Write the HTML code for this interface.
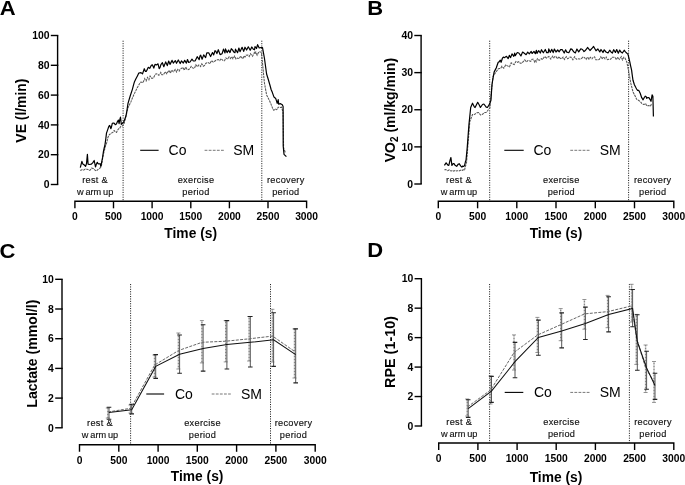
<!DOCTYPE html>
<html><head><meta charset="utf-8"><title>Figure</title>
<style>
html,body{margin:0;padding:0;background:#fff;}
body{width:685px;height:485px;overflow:hidden;font-family:"Liberation Sans", sans-serif;}
svg{display:block;will-change:transform;}
</style></head>
<body>
<svg width="685" height="485" viewBox="0 0 685 485" font-family='"Liberation Sans", sans-serif'>
<rect width="685" height="485" fill="#fff"/>
<text x="0" y="0" font-size="20" font-weight="bold" text-anchor="start" fill="#000" transform="translate(-0.2,14.6) scale(1.1,1)">A</text>
<text x="0" y="0" font-size="20" font-weight="bold" text-anchor="start" fill="#000" transform="translate(367.3,14.6) scale(1.1,1)">B</text>
<text x="0" y="0" font-size="20" font-weight="bold" text-anchor="start" fill="#000" transform="translate(-0.6,257.6) scale(1.1,1)">C</text>
<text x="0" y="0" font-size="20" font-weight="bold" text-anchor="start" fill="#000" transform="translate(367.3,257.4) scale(1.1,1)">D</text>
<path d="M57.6,184.5 L57.6,35.5" stroke="#000" stroke-width="1.4" fill="none"/>
<path d="M50.800000000000004,184.5 L58.300000000000004,184.5" stroke="#000" stroke-width="1.4"/>
<text x="49.50000000000001" y="188.2" font-size="10.4" font-weight="bold" text-anchor="end" fill="#000" >0</text>
<path d="M50.800000000000004,154.7 L58.300000000000004,154.7" stroke="#000" stroke-width="1.4"/>
<text x="49.50000000000001" y="158.39999999999998" font-size="10.4" font-weight="bold" text-anchor="end" fill="#000" >20</text>
<path d="M50.800000000000004,124.9 L58.300000000000004,124.9" stroke="#000" stroke-width="1.4"/>
<text x="49.50000000000001" y="128.6" font-size="10.4" font-weight="bold" text-anchor="end" fill="#000" >40</text>
<path d="M50.800000000000004,95.1 L58.300000000000004,95.1" stroke="#000" stroke-width="1.4"/>
<text x="49.50000000000001" y="98.8" font-size="10.4" font-weight="bold" text-anchor="end" fill="#000" >60</text>
<path d="M50.800000000000004,65.3 L58.300000000000004,65.3" stroke="#000" stroke-width="1.4"/>
<text x="49.50000000000001" y="69.0" font-size="10.4" font-weight="bold" text-anchor="end" fill="#000" >80</text>
<path d="M50.800000000000004,35.5 L58.300000000000004,35.5" stroke="#000" stroke-width="1.4"/>
<text x="49.50000000000001" y="39.2" font-size="10.4" font-weight="bold" text-anchor="end" fill="#000" >100</text>
<path d="M74.9,208.3 L74.9,201.3 L306.6,201.3 L306.6,208.3" stroke="#000" stroke-width="1.4" fill="none"/>
<text x="74.9" y="220.2" font-size="10.3" font-weight="bold" text-anchor="middle" fill="#000" >0</text>
<path d="M113.5,201.3 L113.5,208.3" stroke="#000" stroke-width="1.4"/>
<text x="113.5" y="220.2" font-size="10.3" font-weight="bold" text-anchor="middle" fill="#000" >500</text>
<path d="M152.1,201.3 L152.1,208.3" stroke="#000" stroke-width="1.4"/>
<text x="152.1" y="220.2" font-size="10.3" font-weight="bold" text-anchor="middle" fill="#000" >1000</text>
<path d="M190.8,201.3 L190.8,208.3" stroke="#000" stroke-width="1.4"/>
<text x="190.8" y="220.2" font-size="10.3" font-weight="bold" text-anchor="middle" fill="#000" >1500</text>
<path d="M229.4,201.3 L229.4,208.3" stroke="#000" stroke-width="1.4"/>
<text x="229.4" y="220.2" font-size="10.3" font-weight="bold" text-anchor="middle" fill="#000" >2000</text>
<path d="M268.0,201.3 L268.0,208.3" stroke="#000" stroke-width="1.4"/>
<text x="268.0" y="220.2" font-size="10.3" font-weight="bold" text-anchor="middle" fill="#000" >2500</text>
<text x="306.6" y="220.2" font-size="10.3" font-weight="bold" text-anchor="middle" fill="#000" >3000</text>
<text x="0" y="0" font-size="13.9" font-weight="bold" text-anchor="middle" transform="translate(26.2,110.6) rotate(-90)">VE (l/min)</text>
<text x="190.7" y="237.8" font-size="13.8" font-weight="bold" text-anchor="middle" fill="#000" >Time (s)</text>
<path d="M123.1,40.7 L123.1,201" stroke="#222" stroke-width="1" stroke-dasharray="1.1,1.3" fill="none"/>
<path d="M261.8,40.7 L261.8,201" stroke="#222" stroke-width="1" stroke-dasharray="1.1,1.3" fill="none"/>
<text x="95.1" y="183.3" font-size="9.2" font-weight="normal" text-anchor="middle" fill="#111" letter-spacing="0.3" stroke="#111" stroke-width="0.15">rest &amp;</text>
<text x="95.1" y="194.6" font-size="9.2" font-weight="normal" text-anchor="middle" fill="#111" word-spacing="-0.7" stroke="#111" stroke-width="0.15">w arm up</text>
<text x="196" y="183.3" font-size="9.2" font-weight="normal" text-anchor="middle" fill="#111" letter-spacing="0.3" stroke="#111" stroke-width="0.15">exercise</text>
<text x="196" y="194.6" font-size="9.2" font-weight="normal" text-anchor="middle" fill="#111" letter-spacing="0.3" stroke="#111" stroke-width="0.15">period</text>
<text x="285.8" y="183.3" font-size="9.2" font-weight="normal" text-anchor="middle" fill="#111" letter-spacing="0.3" stroke="#111" stroke-width="0.15">recovery</text>
<text x="285.8" y="194.6" font-size="9.2" font-weight="normal" text-anchor="middle" fill="#111" letter-spacing="0.3" stroke="#111" stroke-width="0.15">period</text>
<path d="M140.2,150.3 L158.6,150.3" stroke="#000" stroke-width="1.1"/>
<text x="168.6" y="155.4" font-size="14" font-weight="normal" text-anchor="start" fill="#000" >Co</text>
<path d="M204.6,150.3 L224,150.3" stroke="#777" stroke-width="1" stroke-dasharray="2.8,1.3"/>
<text x="233.2" y="155.4" font-size="14" font-weight="normal" text-anchor="start" fill="#000" >SM</text>
<path d="M80.3,170.4 L81.9,169.7 L83.5,170.1 L85.3,169.1 L87.1,169.3 L88.7,169.9 L89.6,170.4 L90.4,169.8 L91.5,168.2 L93.3,168.6 L94.0,169.1 L95.0,170.2 L96.4,171.0 L98.1,169.4 L99.5,168.5 L100.7,167.4 L101.4,166.0 L103.0,156.0 L104.4,150.4 L105.5,146.0 L106.8,142.4 L107.9,137.4 L109.4,134.5 L111.5,133.1 L113.1,132.1 L113.7,130.9 L114.4,130.7 L115.5,132.1 L116.6,132.4 L117.2,130.7 L118.7,128.7 L119.6,128.6 L120.2,127.3 L121.0,126.2 L122.4,125.9 L123.8,124.4 L125.2,119.4 L127.2,111.1 L128.0,107.7 L128.8,106.1 L130.9,101.9 L132.1,98.8 L133.8,94.7 L135.5,91.4 L136.8,88.5 L137.4,87.4 L138.9,84.8 L140.3,82.4 L141.0,82.1 L142.9,82.7 L144.7,78.7 L145.3,80.2 L146.1,81.0 L147.5,77.4 L148.9,79.8 L150.1,76.1 L151.1,77.3 L151.9,78.4 L153.4,78.0 L155.4,74.1 L156.8,73.8 L158.9,75.3 L160.0,73.9 L160.8,72.4 L161.9,74.8 L163.3,74.8 L165.3,71.7 L166.8,73.7 L168.9,70.3 L170.4,73.1 L171.6,70.1 L173.3,71.8 L175.2,69.4 L176.6,72.0 L177.8,69.4 L179.2,71.1 L180.0,69.5 L181.2,68.5 L183.1,67.5 L184.3,70.3 L185.7,67.0 L186.9,69.2 L188.1,69.6 L190.0,68.6 L191.2,66.4 L192.9,68.1 L194.5,68.3 L195.8,64.7 L197.6,66.8 L198.8,64.9 L200.0,65.6 L200.6,66.5 L201.8,63.9 L203.3,66.2 L204.6,65.3 L206.0,63.2 L208.1,62.5 L210.0,63.8 L211.4,60.6 L213.3,62.2 L215.0,61.0 L216.2,60.2 L218.1,59.5 L219.8,60.6 L221.1,58.6 L223.1,60.6 L224.5,60.7 L225.8,57.9 L227.7,59.1 L229.1,56.9 L230.0,57.8 L230.5,58.5 L231.7,56.7 L232.9,58.8 L234.6,56.1 L236.0,59.0 L237.7,58.0 L239.1,58.8 L240.7,56.1 L242.7,58.8 L244.3,55.8 L245.0,57.0 L246.0,55.2 L247.9,55.0 L249.2,56.5 L250.5,53.8 L252.5,56.2 L254.4,52.5 L255.0,54.0 L255.8,52.1 L257.1,55.2 L258.9,51.7 L260.9,52.1 L261.5,53.0 L262.2,60.2 L262.8,66.0 L264.4,82.8 L266.6,94.9 L267.9,97.5 L269.9,101.5 L270.7,103.4 L271.8,106.3 L273.2,109.7 L273.9,110.3 L275.2,108.9 L276.5,109.7 L277.0,109.3 L278.2,107.2 L280.3,107.5 L281.5,107.2 L283.0,112.0 L283.6,148.0 L284.7,150.8 L285.5,153.0" stroke="#555" stroke-width="1.05" fill="none" stroke-dasharray="2.4,0.8"/>
<path d="M80.3,167.6 L81.9,161.4 L82.8,163.9 L84.0,164.8 L85.6,166.3 L86.5,163.6 L87.4,154.3 L88.1,164.2 L89.3,164.5 L91.2,164.2 L92.7,162.9 L94.2,160.5 L95.5,167.0 L96.3,164.3 L97.3,162.3 L98.1,163.7 L98.6,163.9 L100.4,163.9 L100.7,166.3 L101.4,163.6 L102.6,157.4 L103.5,151.2 L104.2,148.0 L105.0,144.6 L105.9,138.0 L106.5,133.1 L107.9,129.1 L108.7,126.8 L109.4,125.5 L110.0,126.0 L110.8,128.7 L111.4,127.2 L112.3,123.3 L113.4,123.0 L114.4,123.3 L115.2,124.7 L115.9,124.4 L116.5,123.8 L117.3,121.9 L118.4,120.1 L119.1,123.7 L119.6,120.4 L120.5,117.2 L121.3,124.4 L122.7,123.0 L123.7,122.0 L124.5,120.1 L126.0,115.8 L127.0,110.0 L128.0,103.3 L130.2,96.0 L132.3,89.6 L133.7,84.4 L134.5,81.7 L135.8,79.1 L137.4,75.9 L138.8,73.0 L141.0,72.6 L142.5,73.9 L144.3,68.7 L145.3,71.3 L146.4,71.3 L148.3,67.3 L149.7,68.4 L151.2,65.4 L152.5,64.9 L153.8,68.1 L155.0,64.4 L156.4,64.9 L158.0,63.8 L159.2,68.6 L160.0,67.7 L160.9,64.6 L162.4,62.7 L163.8,66.7 L165.7,61.9 L167.3,65.6 L168.7,61.0 L170.0,64.4 L172.1,60.4 L173.3,63.1 L175.3,60.6 L176.5,63.3 L178.3,60.0 L180.2,63.5 L181.4,60.9 L183.3,63.0 L184.7,60.4 L186.4,63.1 L187.5,59.5 L188.7,62.5 L190.0,62.0 L192.0,59.2 L193.3,61.0 L195.2,60.8 L197.2,56.7 L199.2,59.7 L200.0,55.8 L200.7,55.1 L202.1,59.2 L203.7,54.9 L205.6,57.6 L206.8,52.8 L208.7,52.8 L210.6,56.5 L212.5,52.5 L213.7,54.9 L215.0,50.7 L215.7,51.1 L216.9,53.6 L218.3,49.7 L220.1,54.6 L222.1,53.7 L223.5,49.1 L225.0,53.0 L225.5,48.9 L227.1,52.6 L228.6,50.1 L230.0,52.6 L231.3,48.7 L232.5,49.9 L233.7,51.9 L235.0,52.7 L235.5,49.2 L237.6,52.7 L238.9,48.0 L240.0,51.7 L242.1,47.3 L243.7,51.4 L245.0,47.2 L246.6,50.0 L248.3,46.8 L250.2,50.3 L251.8,47.0 L253.3,49.2 L254.5,49.8 L255.0,46.5 L256.5,48.5 L257.6,44.7 L259.2,48.0 L261.0,47.5 L262.5,47.7 L264.4,58.0 L266.6,74.0 L268.0,78.5 L269.9,85.0 L271.1,89.5 L272.4,92.6 L274.0,97.1 L275.7,98.4 L277.2,103.4 L278.2,99.7 L278.7,104.1 L280.6,103.7 L282.3,104.7 L283.1,106.4 L283.2,146.0 L284.0,154.3 L284.8,155.1 L286.4,156.7" stroke="#000" stroke-width="1.2" fill="none" stroke-linejoin="round"/>
<path d="M421.1,184.0 L421.1,35.5" stroke="#000" stroke-width="1.4" fill="none"/>
<path d="M414.3,184.0 L421.8,184.0" stroke="#000" stroke-width="1.4"/>
<text x="413.0" y="187.7" font-size="10.4" font-weight="bold" text-anchor="end" fill="#000" >0</text>
<path d="M414.3,146.875 L421.8,146.875" stroke="#000" stroke-width="1.4"/>
<text x="413.0" y="150.575" font-size="10.4" font-weight="bold" text-anchor="end" fill="#000" >10</text>
<path d="M414.3,109.75 L421.8,109.75" stroke="#000" stroke-width="1.4"/>
<text x="413.0" y="113.45" font-size="10.4" font-weight="bold" text-anchor="end" fill="#000" >20</text>
<path d="M414.3,72.625 L421.8,72.625" stroke="#000" stroke-width="1.4"/>
<text x="413.0" y="76.325" font-size="10.4" font-weight="bold" text-anchor="end" fill="#000" >30</text>
<path d="M414.3,35.5 L421.8,35.5" stroke="#000" stroke-width="1.4"/>
<text x="413.0" y="39.2" font-size="10.4" font-weight="bold" text-anchor="end" fill="#000" >40</text>
<path d="M438.3,208.3 L438.3,201.3 L673.8,201.3 L673.8,208.3" stroke="#000" stroke-width="1.4" fill="none"/>
<text x="438.3" y="220.2" font-size="10.3" font-weight="bold" text-anchor="middle" fill="#000" >0</text>
<path d="M477.6,201.3 L477.6,208.3" stroke="#000" stroke-width="1.4"/>
<text x="477.6" y="220.2" font-size="10.3" font-weight="bold" text-anchor="middle" fill="#000" >500</text>
<path d="M516.8,201.3 L516.8,208.3" stroke="#000" stroke-width="1.4"/>
<text x="516.8" y="220.2" font-size="10.3" font-weight="bold" text-anchor="middle" fill="#000" >1000</text>
<path d="M556.0,201.3 L556.0,208.3" stroke="#000" stroke-width="1.4"/>
<text x="556.0" y="220.2" font-size="10.3" font-weight="bold" text-anchor="middle" fill="#000" >1500</text>
<path d="M595.3,201.3 L595.3,208.3" stroke="#000" stroke-width="1.4"/>
<text x="595.3" y="220.2" font-size="10.3" font-weight="bold" text-anchor="middle" fill="#000" >2000</text>
<path d="M634.5,201.3 L634.5,208.3" stroke="#000" stroke-width="1.4"/>
<text x="634.5" y="220.2" font-size="10.3" font-weight="bold" text-anchor="middle" fill="#000" >2500</text>
<text x="673.8" y="220.2" font-size="10.3" font-weight="bold" text-anchor="middle" fill="#000" >3000</text>
<text x="0" y="0" font-size="14" font-weight="bold" text-anchor="middle" transform="translate(394.8,110.1) rotate(-90)">VO<tspan font-size="10" dy="3">2</tspan><tspan dy="-3"> (ml/kg/min)</tspan></text>
<text x="556" y="237.8" font-size="13.8" font-weight="bold" text-anchor="middle" fill="#000" >Time (s)</text>
<path d="M489.7,40.7 L489.7,201" stroke="#222" stroke-width="1" stroke-dasharray="1.1,1.3" fill="none"/>
<path d="M628.6,40.7 L628.6,201" stroke="#222" stroke-width="1" stroke-dasharray="1.1,1.3" fill="none"/>
<text x="459" y="183.3" font-size="9.2" font-weight="normal" text-anchor="middle" fill="#111" letter-spacing="0.3" stroke="#111" stroke-width="0.15">rest &amp;</text>
<text x="459" y="194.6" font-size="9.2" font-weight="normal" text-anchor="middle" fill="#111" word-spacing="-0.7" stroke="#111" stroke-width="0.15">w arm up</text>
<text x="561.3" y="183.3" font-size="9.2" font-weight="normal" text-anchor="middle" fill="#111" letter-spacing="0.3" stroke="#111" stroke-width="0.15">exercise</text>
<text x="561.3" y="194.6" font-size="9.2" font-weight="normal" text-anchor="middle" fill="#111" letter-spacing="0.3" stroke="#111" stroke-width="0.15">period</text>
<text x="652.7" y="183.3" font-size="9.2" font-weight="normal" text-anchor="middle" fill="#111" letter-spacing="0.3" stroke="#111" stroke-width="0.15">recovery</text>
<text x="652.7" y="194.6" font-size="9.2" font-weight="normal" text-anchor="middle" fill="#111" letter-spacing="0.3" stroke="#111" stroke-width="0.15">period</text>
<path d="M504.3,150.3 L523.7,150.3" stroke="#000" stroke-width="1.1"/>
<text x="533.5" y="155.4" font-size="14" font-weight="normal" text-anchor="start" fill="#000" >Co</text>
<path d="M570.3,150.3 L589.7,150.3" stroke="#777" stroke-width="1" stroke-dasharray="2.8,1.3"/>
<text x="599.7" y="155.4" font-size="14" font-weight="normal" text-anchor="start" fill="#000" >SM</text>
<path d="M444.4,169.8 L445.8,169.6 L447.5,170.7 L449.3,169.9 L450.5,170.7 L451.3,170.9 L452.6,170.4 L453.9,171.2 L455.2,170.3 L456.5,171.0 L457.5,170.7 L458.3,170.9 L459.6,170.8 L461.2,169.8 L462.5,170.3 L463.9,169.5 L464.6,169.8 L465.5,166.0 L466.5,163.0 L467.4,151.9 L469.1,130.6 L469.8,121.6 L471.6,116.9 L472.5,114.6 L474.8,114.3 L476.8,112.8 L478.6,112.6 L480.5,115.0 L482.1,114.6 L484.4,112.7 L486.3,112.2 L487.4,111.0 L490.0,107.5 L491.5,90.0 L493.1,76.2 L494.7,73.9 L495.2,73.1 L496.2,71.7 L497.7,69.7 L498.2,69.0 L499.2,68.5 L500.6,68.5 L501.9,66.3 L502.4,67.0 L503.8,68.2 L505.7,64.9 L507.5,65.9 L509.5,66.8 L511.2,62.9 L512.7,63.9 L514.2,64.6 L516.0,61.4 L517.8,62.3 L518.8,61.6 L520.2,63.2 L521.8,63.1 L523.0,61.8 L524.7,59.9 L526.4,61.9 L527.9,60.5 L529.2,60.8 L530.7,61.4 L532.1,59.3 L533.4,59.3 L534.7,62.1 L535.4,60.8 L536.2,61.9 L537.4,58.7 L539.2,60.4 L541.5,58.7 L542.7,59.5 L544.5,56.5 L546.5,58.0 L547.7,57.2 L548.9,56.5 L550.8,59.1 L552.7,56.1 L553.9,57.7 L554.5,56.7 L555.8,56.4 L557.3,58.8 L559.2,56.6 L560.0,58.2 L561.2,58.9 L563.1,57.1 L564.4,59.4 L566.3,56.7 L567.8,58.8 L569.6,57.3 L570.9,57.1 L572.9,59.7 L574.6,56.8 L576.4,59.2 L577.8,58.7 L579.5,58.9 L581.2,58.9 L582.8,57.1 L584.3,57.4 L586.1,59.4 L587.6,57.1 L589.0,59.2 L590.3,57.3 L592.0,58.8 L593.3,57.2 L594.6,56.8 L595.8,59.8 L597.5,59.7 L599.2,59.5 L600.8,56.9 L602.0,59.0 L603.5,56.8 L605.0,58.8 L606.2,57.0 L607.3,59.6 L609.4,59.2 L610.6,59.3 L612.0,57.2 L613.4,57.2 L615.1,57.3 L616.3,59.8 L617.9,57.2 L619.3,59.3 L621.3,56.7 L622.4,59.9 L623.8,57.2 L625.0,58.2 L626.8,61.9 L627.5,65.3 L628.7,71.7 L630.8,83.2 L632.4,89.6 L633.0,91.9 L633.8,93.5 L635.0,95.8 L635.9,97.7 L636.6,99.2 L638.8,100.5 L640.4,101.6 L641.7,103.4 L643.5,104.5 L644.5,104.2 L645.5,103.5 L646.8,105.9 L648.9,105.6 L650.3,106.3 L651.3,104.4 L652.0,104.0" stroke="#555" stroke-width="1.05" fill="none" stroke-dasharray="2.4,0.8"/>
<path d="M444.4,165.4 L446.1,162.8 L447.9,165.2 L448.8,165.4 L450.0,160.5 L450.9,157.5 L451.9,165.4 L453.2,163.6 L454.0,163.7 L455.0,165.2 L456.7,166.3 L458.0,164.4 L459.3,163.7 L460.6,165.9 L461.9,167.2 L462.5,166.1 L463.8,166.5 L464.6,165.4 L465.4,161.8 L466.0,160.2 L467.2,147.9 L468.9,125.1 L470.7,107.5 L472.5,103.2 L474.4,107.0 L475.1,107.5 L477.7,102.3 L479.4,105.2 L480.4,107.5 L482.5,104.5 L483.9,104.0 L486.2,107.1 L487.4,107.5 L489.1,104.9 L490.9,100.5 L492.0,84.5 L492.8,79.5 L494.1,72.1 L495.5,69.4 L496.2,68.0 L497.5,64.3 L498.2,62.3 L499.1,61.9 L500.3,60.2 L501.1,62.3 L502.4,58.2 L503.4,57.1 L504.3,57.7 L506.5,56.3 L508.2,58.6 L509.3,55.4 L510.6,57.6 L512.0,53.9 L513.8,56.3 L514.7,53.1 L515.3,55.7 L517.3,52.5 L518.8,53.0 L520.9,55.9 L522.6,52.1 L524.0,53.1 L526.1,54.7 L527.7,52.1 L529.3,53.9 L531.2,51.4 L532.1,53.5 L534.0,51.4 L535.3,53.7 L536.4,50.3 L537.0,53.3 L538.7,50.7 L540.3,53.0 L541.5,49.7 L543.3,52.8 L545.3,49.5 L546.7,52.7 L548.2,52.7 L548.8,48.9 L550.2,52.4 L551.8,49.4 L553.2,52.6 L554.4,49.0 L556.0,52.0 L557.7,50.0 L559.2,51.8 L560.6,49.6 L562.3,49.7 L564.2,53.0 L565.6,49.8 L566.8,52.1 L568.8,52.7 L570.8,48.9 L572.0,49.4 L573.6,51.7 L575.4,52.9 L576.9,49.0 L578.7,51.9 L580.8,48.8 L582.5,49.5 L584.0,51.6 L585.0,50.8 L586.6,48.8 L587.7,47.5 L589.1,49.3 L590.0,50.5 L592.4,47.9 L593.6,46.5 L596.0,50.8 L597.9,49.0 L599.8,51.9 L601.0,49.5 L603.0,52.5 L604.2,49.8 L606.0,52.0 L608.0,53.0 L609.7,50.2 L611.2,52.2 L612.4,53.1 L613.6,49.7 L615.4,52.4 L616.7,49.6 L618.3,53.2 L619.7,50.1 L621.0,52.1 L622.4,53.0 L624.2,50.2 L625.0,51.4 L625.8,52.2 L627.3,53.6 L628.0,54.3 L628.9,58.0 L629.8,61.9 L630.5,65.3 L631.6,70.2 L632.1,74.1 L633.0,80.3 L633.7,82.5 L634.4,84.7 L635.7,87.3 L636.6,89.0 L637.6,90.4 L638.8,90.4 L640.2,93.3 L641.7,97.7 L643.1,99.8 L644.3,97.5 L645.3,96.2 L646.1,96.6 L646.7,98.4 L647.8,97.5 L648.9,97.7 L650.3,99.8 L651.0,101.3 L652.1,94.8 L652.9,96.2 L653.4,116.4" stroke="#000" stroke-width="1.2" fill="none" stroke-linejoin="round"/>
<path d="M62.0,427.8 L62.0,279.3" stroke="#000" stroke-width="1.4" fill="none"/>
<path d="M55.2,427.8 L62.7,427.8" stroke="#000" stroke-width="1.4"/>
<text x="53.900000000000006" y="431.5" font-size="10.4" font-weight="bold" text-anchor="end" fill="#000" >0</text>
<path d="M55.2,398.1 L62.7,398.1" stroke="#000" stroke-width="1.4"/>
<text x="53.900000000000006" y="401.8" font-size="10.4" font-weight="bold" text-anchor="end" fill="#000" >2</text>
<path d="M55.2,368.40000000000003 L62.7,368.40000000000003" stroke="#000" stroke-width="1.4"/>
<text x="53.900000000000006" y="372.1" font-size="10.4" font-weight="bold" text-anchor="end" fill="#000" >4</text>
<path d="M55.2,338.70000000000005 L62.7,338.70000000000005" stroke="#000" stroke-width="1.4"/>
<text x="53.900000000000006" y="342.40000000000003" font-size="10.4" font-weight="bold" text-anchor="end" fill="#000" >6</text>
<path d="M55.2,309.0 L62.7,309.0" stroke="#000" stroke-width="1.4"/>
<text x="53.900000000000006" y="312.7" font-size="10.4" font-weight="bold" text-anchor="end" fill="#000" >8</text>
<path d="M55.2,279.3 L62.7,279.3" stroke="#000" stroke-width="1.4"/>
<text x="53.900000000000006" y="283.0" font-size="10.4" font-weight="bold" text-anchor="end" fill="#000" >10</text>
<path d="M79.5,451.8 L79.5,444.8 L315.2,444.8 L315.2,451.8" stroke="#000" stroke-width="1.4" fill="none"/>
<text x="79.5" y="463.6" font-size="10.3" font-weight="bold" text-anchor="middle" fill="#000" >0</text>
<path d="M118.8,444.8 L118.8,451.8" stroke="#000" stroke-width="1.4"/>
<text x="118.8" y="463.6" font-size="10.3" font-weight="bold" text-anchor="middle" fill="#000" >500</text>
<path d="M158.1,444.8 L158.1,451.8" stroke="#000" stroke-width="1.4"/>
<text x="158.1" y="463.6" font-size="10.3" font-weight="bold" text-anchor="middle" fill="#000" >1000</text>
<path d="M197.3,444.8 L197.3,451.8" stroke="#000" stroke-width="1.4"/>
<text x="197.3" y="463.6" font-size="10.3" font-weight="bold" text-anchor="middle" fill="#000" >1500</text>
<path d="M236.6,444.8 L236.6,451.8" stroke="#000" stroke-width="1.4"/>
<text x="236.6" y="463.6" font-size="10.3" font-weight="bold" text-anchor="middle" fill="#000" >2000</text>
<path d="M275.9,444.8 L275.9,451.8" stroke="#000" stroke-width="1.4"/>
<text x="275.9" y="463.6" font-size="10.3" font-weight="bold" text-anchor="middle" fill="#000" >2500</text>
<text x="315.2" y="463.6" font-size="10.3" font-weight="bold" text-anchor="middle" fill="#000" >3000</text>
<text x="0" y="0" font-size="14.1" font-weight="bold" text-anchor="middle" transform="translate(36.8,353.7) rotate(-90)">Lactate (mmol/l)</text>
<text x="197.1" y="481.3" font-size="13.8" font-weight="bold" text-anchor="middle" fill="#000" >Time (s)</text>
<path d="M130.6,284 L130.6,444" stroke="#222" stroke-width="1" stroke-dasharray="1.1,1.3" fill="none"/>
<path d="M270.5,284 L270.5,444" stroke="#222" stroke-width="1" stroke-dasharray="1.1,1.3" fill="none"/>
<text x="100" y="426.4" font-size="9.2" font-weight="normal" text-anchor="middle" fill="#111" letter-spacing="0.3" stroke="#111" stroke-width="0.15">rest &amp;</text>
<text x="100" y="437.8" font-size="9.2" font-weight="normal" text-anchor="middle" fill="#111" word-spacing="-0.7" stroke="#111" stroke-width="0.15">w arm up</text>
<text x="202.5" y="426.4" font-size="9.2" font-weight="normal" text-anchor="middle" fill="#111" letter-spacing="0.3" stroke="#111" stroke-width="0.15">exercise</text>
<text x="202.5" y="437.8" font-size="9.2" font-weight="normal" text-anchor="middle" fill="#111" letter-spacing="0.3" stroke="#111" stroke-width="0.15">period</text>
<text x="293.5" y="426.4" font-size="9.2" font-weight="normal" text-anchor="middle" fill="#111" letter-spacing="0.3" stroke="#111" stroke-width="0.15">recovery</text>
<text x="293.5" y="437.8" font-size="9.2" font-weight="normal" text-anchor="middle" fill="#111" letter-spacing="0.3" stroke="#111" stroke-width="0.15">period</text>
<path d="M146.3,394 L164.1,394" stroke="#000" stroke-width="1.1"/>
<text x="175" y="398.9" font-size="14" font-weight="normal" text-anchor="start" fill="#000" >Co</text>
<path d="M211.7,394 L230.8,394" stroke="#777" stroke-width="1" stroke-dasharray="2.8,1.3"/>
<text x="241" y="398.9" font-size="14" font-weight="normal" text-anchor="start" fill="#000" >SM</text>
<path d="M107.8,408.0 L107.8,418.0" stroke="#888" stroke-width="1.4" stroke-dasharray="1,0.5"/>
<path d="M105.8,408.0 L109.8,408.0 M105.8,418.0 L109.8,418.0" stroke="#888" stroke-width="0.9"/>
<path d="M109.0,407.3 L109.0,419.3" stroke="#555" stroke-width="1.0"/>
<path d="M106.7,407.3 L111.3,407.3 M106.7,419.3 L111.3,419.3" stroke="#222" stroke-width="1.1"/>
<path d="M130.5,405.0 L130.5,413.0" stroke="#888" stroke-width="1.4" stroke-dasharray="1,0.5"/>
<path d="M128.5,405.0 L132.5,405.0 M128.5,413.0 L132.5,413.0" stroke="#888" stroke-width="0.9"/>
<path d="M131.7,404.4 L131.7,413.9" stroke="#555" stroke-width="1.0"/>
<path d="M129.39999999999998,404.4 L134.0,404.4 M129.39999999999998,413.9 L134.0,413.9" stroke="#222" stroke-width="1.1"/>
<path d="M154.5,355.0 L154.5,377.0" stroke="#888" stroke-width="1.4" stroke-dasharray="1,0.5"/>
<path d="M152.5,355.0 L156.5,355.0 M152.5,377.0 L156.5,377.0" stroke="#888" stroke-width="0.9"/>
<path d="M155.7,354.6 L155.7,378.4" stroke="#555" stroke-width="1.0"/>
<path d="M153.39999999999998,354.6 L158.0,354.6 M153.39999999999998,378.4 L158.0,378.4" stroke="#222" stroke-width="1.1"/>
<path d="M178.4,333.0 L178.4,369.0" stroke="#888" stroke-width="1.4" stroke-dasharray="1,0.5"/>
<path d="M176.4,333.0 L180.4,333.0 M176.4,369.0 L180.4,369.0" stroke="#888" stroke-width="0.9"/>
<path d="M179.6,335.0 L179.6,373.2" stroke="#555" stroke-width="1.0"/>
<path d="M177.29999999999998,335.0 L181.9,335.0 M177.29999999999998,373.2 L181.9,373.2" stroke="#222" stroke-width="1.1"/>
<path d="M201.9,320.6 L201.9,362.9" stroke="#888" stroke-width="1.4" stroke-dasharray="1,0.5"/>
<path d="M199.9,320.6 L203.9,320.6 M199.9,362.9 L203.9,362.9" stroke="#888" stroke-width="0.9"/>
<path d="M203.1,324.7 L203.1,371.1" stroke="#555" stroke-width="1.0"/>
<path d="M200.79999999999998,324.7 L205.4,324.7 M200.79999999999998,371.1 L205.4,371.1" stroke="#222" stroke-width="1.1"/>
<path d="M225.70000000000002,320.6 L225.70000000000002,361.9" stroke="#888" stroke-width="1.4" stroke-dasharray="1,0.5"/>
<path d="M223.70000000000002,320.6 L227.70000000000002,320.6 M223.70000000000002,361.9 L227.70000000000002,361.9" stroke="#888" stroke-width="0.9"/>
<path d="M226.9,320.6 L226.9,369.0" stroke="#555" stroke-width="1.0"/>
<path d="M224.6,320.6 L229.20000000000002,320.6 M224.6,369.0 L229.20000000000002,369.0" stroke="#222" stroke-width="1.1"/>
<path d="M249.10000000000002,316.5 L249.10000000000002,361.0" stroke="#888" stroke-width="1.4" stroke-dasharray="1,0.5"/>
<path d="M247.10000000000002,316.5 L251.10000000000002,316.5 M247.10000000000002,361.0 L251.10000000000002,361.0" stroke="#888" stroke-width="0.9"/>
<path d="M250.3,316.5 L250.3,367.0" stroke="#555" stroke-width="1.0"/>
<path d="M248.0,316.5 L252.60000000000002,316.5 M248.0,367.0 L252.60000000000002,367.0" stroke="#222" stroke-width="1.1"/>
<path d="M272.40000000000003,309.3 L272.40000000000003,362.0" stroke="#888" stroke-width="1.4" stroke-dasharray="1,0.5"/>
<path d="M270.40000000000003,309.3 L274.40000000000003,309.3 M270.40000000000003,362.0 L274.40000000000003,362.0" stroke="#888" stroke-width="0.9"/>
<path d="M273.6,312.8 L273.6,366.4" stroke="#555" stroke-width="1.0"/>
<path d="M271.3,312.8 L275.90000000000003,312.8 M271.3,366.4 L275.90000000000003,366.4" stroke="#222" stroke-width="1.1"/>
<path d="M294.5,328.9 L294.5,378.0" stroke="#888" stroke-width="1.4" stroke-dasharray="1,0.5"/>
<path d="M292.5,328.9 L296.5,328.9 M292.5,378.0 L296.5,378.0" stroke="#888" stroke-width="0.9"/>
<path d="M295.7,328.9 L295.7,382.9" stroke="#555" stroke-width="1.0"/>
<path d="M293.4,328.9 L298.0,328.9 M293.4,382.9 L298.0,382.9" stroke="#222" stroke-width="1.1"/>
<path d="M108.0,412.0 L130.7,408.3 L154.7,365.0 L178.6,350.5 L202.1,342.3 L225.9,341.2 L249.3,338.8 L272.6,336.1 L294.7,351.5" stroke="#666" stroke-width="1" fill="none" stroke-dasharray="3,1.3"/>
<path d="M109.0,412.4 L131.7,409.8 L155.7,366.4 L179.6,354.2 L203.1,348.5 L226.9,344.5 L250.3,342.3 L273.6,339.8 L295.7,354.6" stroke="#111" stroke-width="1.05" fill="none"/>
<path d="M421.4,426.0 L421.4,278.7" stroke="#000" stroke-width="1.4" fill="none"/>
<path d="M414.59999999999997,426.0 L422.09999999999997,426.0" stroke="#000" stroke-width="1.4"/>
<text x="413.29999999999995" y="429.7" font-size="10.4" font-weight="bold" text-anchor="end" fill="#000" >0</text>
<path d="M414.59999999999997,396.54 L422.09999999999997,396.54" stroke="#000" stroke-width="1.4"/>
<text x="413.29999999999995" y="400.24" font-size="10.4" font-weight="bold" text-anchor="end" fill="#000" >2</text>
<path d="M414.59999999999997,367.08 L422.09999999999997,367.08" stroke="#000" stroke-width="1.4"/>
<text x="413.29999999999995" y="370.78" font-size="10.4" font-weight="bold" text-anchor="end" fill="#000" >4</text>
<path d="M414.59999999999997,337.62 L422.09999999999997,337.62" stroke="#000" stroke-width="1.4"/>
<text x="413.29999999999995" y="341.32" font-size="10.4" font-weight="bold" text-anchor="end" fill="#000" >6</text>
<path d="M414.59999999999997,308.15999999999997 L422.09999999999997,308.15999999999997" stroke="#000" stroke-width="1.4"/>
<text x="413.29999999999995" y="311.85999999999996" font-size="10.4" font-weight="bold" text-anchor="end" fill="#000" >8</text>
<path d="M414.59999999999997,278.7 L422.09999999999997,278.7" stroke="#000" stroke-width="1.4"/>
<text x="413.29999999999995" y="282.4" font-size="10.4" font-weight="bold" text-anchor="end" fill="#000" >10</text>
<path d="M438.7,450.0 L438.7,443.0 L673.8,443.0 L673.8,450.0" stroke="#000" stroke-width="1.4" fill="none"/>
<text x="438.7" y="461.6" font-size="10.3" font-weight="bold" text-anchor="middle" fill="#000" >0</text>
<path d="M477.9,443.0 L477.9,450.0" stroke="#000" stroke-width="1.4"/>
<text x="477.9" y="461.6" font-size="10.3" font-weight="bold" text-anchor="middle" fill="#000" >500</text>
<path d="M517.1,443.0 L517.1,450.0" stroke="#000" stroke-width="1.4"/>
<text x="517.1" y="461.6" font-size="10.3" font-weight="bold" text-anchor="middle" fill="#000" >1000</text>
<path d="M556.2,443.0 L556.2,450.0" stroke="#000" stroke-width="1.4"/>
<text x="556.2" y="461.6" font-size="10.3" font-weight="bold" text-anchor="middle" fill="#000" >1500</text>
<path d="M595.4,443.0 L595.4,450.0" stroke="#000" stroke-width="1.4"/>
<text x="595.4" y="461.6" font-size="10.3" font-weight="bold" text-anchor="middle" fill="#000" >2000</text>
<path d="M634.6,443.0 L634.6,450.0" stroke="#000" stroke-width="1.4"/>
<text x="634.6" y="461.6" font-size="10.3" font-weight="bold" text-anchor="middle" fill="#000" >2500</text>
<text x="673.8" y="461.6" font-size="10.3" font-weight="bold" text-anchor="middle" fill="#000" >3000</text>
<text x="0" y="0" font-size="14.4" font-weight="bold" text-anchor="middle" transform="translate(394.8,352.0) rotate(-90)">RPE (1-10)</text>
<text x="556" y="481.5" font-size="13.8" font-weight="bold" text-anchor="middle" fill="#000" >Time (s)</text>
<path d="M489.6,284 L489.6,443" stroke="#222" stroke-width="1" stroke-dasharray="1.1,1.3" fill="none"/>
<path d="M629.4,284 L629.4,443" stroke="#222" stroke-width="1" stroke-dasharray="1.1,1.3" fill="none"/>
<text x="459.2" y="425" font-size="9.2" font-weight="normal" text-anchor="middle" fill="#111" letter-spacing="0.3" stroke="#111" stroke-width="0.15">rest &amp;</text>
<text x="459.2" y="436.6" font-size="9.2" font-weight="normal" text-anchor="middle" fill="#111" word-spacing="-0.7" stroke="#111" stroke-width="0.15">w arm up</text>
<text x="561.6" y="425" font-size="9.2" font-weight="normal" text-anchor="middle" fill="#111" letter-spacing="0.3" stroke="#111" stroke-width="0.15">exercise</text>
<text x="561.6" y="436.6" font-size="9.2" font-weight="normal" text-anchor="middle" fill="#111" letter-spacing="0.3" stroke="#111" stroke-width="0.15">period</text>
<text x="653" y="425" font-size="9.2" font-weight="normal" text-anchor="middle" fill="#111" letter-spacing="0.3" stroke="#111" stroke-width="0.15">recovery</text>
<text x="653" y="436.6" font-size="9.2" font-weight="normal" text-anchor="middle" fill="#111" letter-spacing="0.3" stroke="#111" stroke-width="0.15">period</text>
<path d="M504.7,392.4 L523.3,392.4" stroke="#000" stroke-width="1.1"/>
<text x="533.9" y="397" font-size="14" font-weight="normal" text-anchor="start" fill="#000" >Co</text>
<path d="M570.3,392.4 L590.1,392.4" stroke="#777" stroke-width="1" stroke-dasharray="2.8,1.3"/>
<text x="599.7" y="397" font-size="14" font-weight="normal" text-anchor="start" fill="#000" >SM</text>
<path d="M467.2,399.0 L467.2,416.0" stroke="#888" stroke-width="1.4" stroke-dasharray="1,0.5"/>
<path d="M465.2,399.0 L469.2,399.0 M465.2,416.0 L469.2,416.0" stroke="#888" stroke-width="0.9"/>
<path d="M468.2,399.7 L468.2,417.4" stroke="#555" stroke-width="1.0"/>
<path d="M465.9,399.7 L470.5,399.7 M465.9,417.4 L470.5,417.4" stroke="#222" stroke-width="1.1"/>
<path d="M490.5,376.0 L490.5,404.0" stroke="#888" stroke-width="1.4" stroke-dasharray="1,0.5"/>
<path d="M488.5,376.0 L492.5,376.0 M488.5,404.0 L492.5,404.0" stroke="#888" stroke-width="0.9"/>
<path d="M491.5,376.4 L491.5,402.4" stroke="#555" stroke-width="1.0"/>
<path d="M489.2,376.4 L493.8,376.4 M489.2,402.4 L493.8,402.4" stroke="#222" stroke-width="1.1"/>
<path d="M514.0,334.9 L514.0,370.0" stroke="#888" stroke-width="1.4" stroke-dasharray="1,0.5"/>
<path d="M512.0,334.9 L516.0,334.9 M512.0,370.0 L516.0,370.0" stroke="#888" stroke-width="0.9"/>
<path d="M515.0,342.4 L515.0,377.7" stroke="#555" stroke-width="1.0"/>
<path d="M512.7,342.4 L517.3,342.4 M512.7,377.7 L517.3,377.7" stroke="#222" stroke-width="1.1"/>
<path d="M537.4,317.4 L537.4,352.5" stroke="#888" stroke-width="1.4" stroke-dasharray="1,0.5"/>
<path d="M535.4,317.4 L539.4,317.4 M535.4,352.5 L539.4,352.5" stroke="#888" stroke-width="0.9"/>
<path d="M538.4,320.1 L538.4,355.2" stroke="#555" stroke-width="1.0"/>
<path d="M536.1,320.1 L540.6999999999999,320.1 M536.1,355.2 L540.6999999999999,355.2" stroke="#222" stroke-width="1.1"/>
<path d="M560.7,308.6 L560.7,340.7" stroke="#888" stroke-width="1.4" stroke-dasharray="1,0.5"/>
<path d="M558.7,308.6 L562.7,308.6 M558.7,340.7 L562.7,340.7" stroke="#888" stroke-width="0.9"/>
<path d="M561.7,312.9 L561.7,347.9" stroke="#555" stroke-width="1.0"/>
<path d="M559.4000000000001,312.9 L564.0,312.9 M559.4000000000001,347.9 L564.0,347.9" stroke="#222" stroke-width="1.1"/>
<path d="M584.4,299.5 L584.4,329.2" stroke="#888" stroke-width="1.4" stroke-dasharray="1,0.5"/>
<path d="M582.4,299.5 L586.4,299.5 M582.4,329.2 L586.4,329.2" stroke="#888" stroke-width="0.9"/>
<path d="M585.4,307.1 L585.4,339.5" stroke="#555" stroke-width="1.0"/>
<path d="M583.1,307.1 L587.6999999999999,307.1 M583.1,339.5 L587.6999999999999,339.5" stroke="#222" stroke-width="1.1"/>
<path d="M607.6,295.4 L607.6,327.7" stroke="#888" stroke-width="1.4" stroke-dasharray="1,0.5"/>
<path d="M605.6,295.4 L609.6,295.4 M605.6,327.7 L609.6,327.7" stroke="#888" stroke-width="0.9"/>
<path d="M608.6,296.8 L608.6,331.9" stroke="#555" stroke-width="1.0"/>
<path d="M606.3000000000001,296.8 L610.9,296.8 M606.3000000000001,331.9 L610.9,331.9" stroke="#222" stroke-width="1.1"/>
<path d="M631.6,284.3 L631.6,322.0" stroke="#888" stroke-width="1.4" stroke-dasharray="1,0.5"/>
<path d="M629.6,284.3 L633.6,284.3 M629.6,322.0 L633.6,322.0" stroke="#888" stroke-width="0.9"/>
<path d="M632.6,289.5 L632.6,326.8" stroke="#555" stroke-width="1.0"/>
<path d="M630.3000000000001,289.5 L634.9,289.5 M630.3000000000001,326.8 L634.9,326.8" stroke="#222" stroke-width="1.1"/>
<path d="M636.3,314.4 L636.3,364.4" stroke="#888" stroke-width="1.4" stroke-dasharray="1,0.5"/>
<path d="M634.3,314.4 L638.3,314.4 M634.3,364.4 L638.3,364.4" stroke="#888" stroke-width="0.9"/>
<path d="M637.3,314.8 L637.3,370.2" stroke="#555" stroke-width="1.0"/>
<path d="M635.0,314.8 L639.5999999999999,314.8 M635.0,370.2 L639.5999999999999,370.2" stroke="#222" stroke-width="1.1"/>
<path d="M645.6,345.0 L645.6,392.5" stroke="#888" stroke-width="1.4" stroke-dasharray="1,0.5"/>
<path d="M643.6,345.0 L647.6,345.0 M643.6,392.5 L647.6,392.5" stroke="#888" stroke-width="0.9"/>
<path d="M646.6,351.2 L646.6,389.2" stroke="#555" stroke-width="1.0"/>
<path d="M644.3000000000001,351.2 L648.9,351.2 M644.3000000000001,389.2 L648.9,389.2" stroke="#222" stroke-width="1.1"/>
<path d="M654.0,361.5 L654.0,402.4" stroke="#888" stroke-width="1.4" stroke-dasharray="1,0.5"/>
<path d="M652.0,361.5 L656.0,361.5 M652.0,402.4 L656.0,402.4" stroke="#888" stroke-width="0.9"/>
<path d="M655.0,373.3 L655.0,399.4" stroke="#555" stroke-width="1.0"/>
<path d="M652.7,373.3 L657.3,373.3 M652.7,399.4 L657.3,399.4" stroke="#222" stroke-width="1.1"/>
<path d="M467.4,407.0 L490.7,390.0 L514.2,352.3 L537.6,335.0 L560.9000000000001,324.6 L584.6,313.9 L607.8000000000001,311.6 L631.8000000000001,305.9 L636.5,338.0 L645.8000000000001,368.5 L654.2,382.0" stroke="#666" stroke-width="1" fill="none" stroke-dasharray="3,1.3"/>
<path d="M468.2,408.6 L491.5,391.2 L515.0,361.7 L538.4,337.4 L561.7,331.0 L585.4,323.6 L608.6,314.4 L632.6,308.4 L637.3,341.5 L646.6,368.0 L655.0,385.4" stroke="#111" stroke-width="1.05" fill="none"/>
</svg>
</body></html>
